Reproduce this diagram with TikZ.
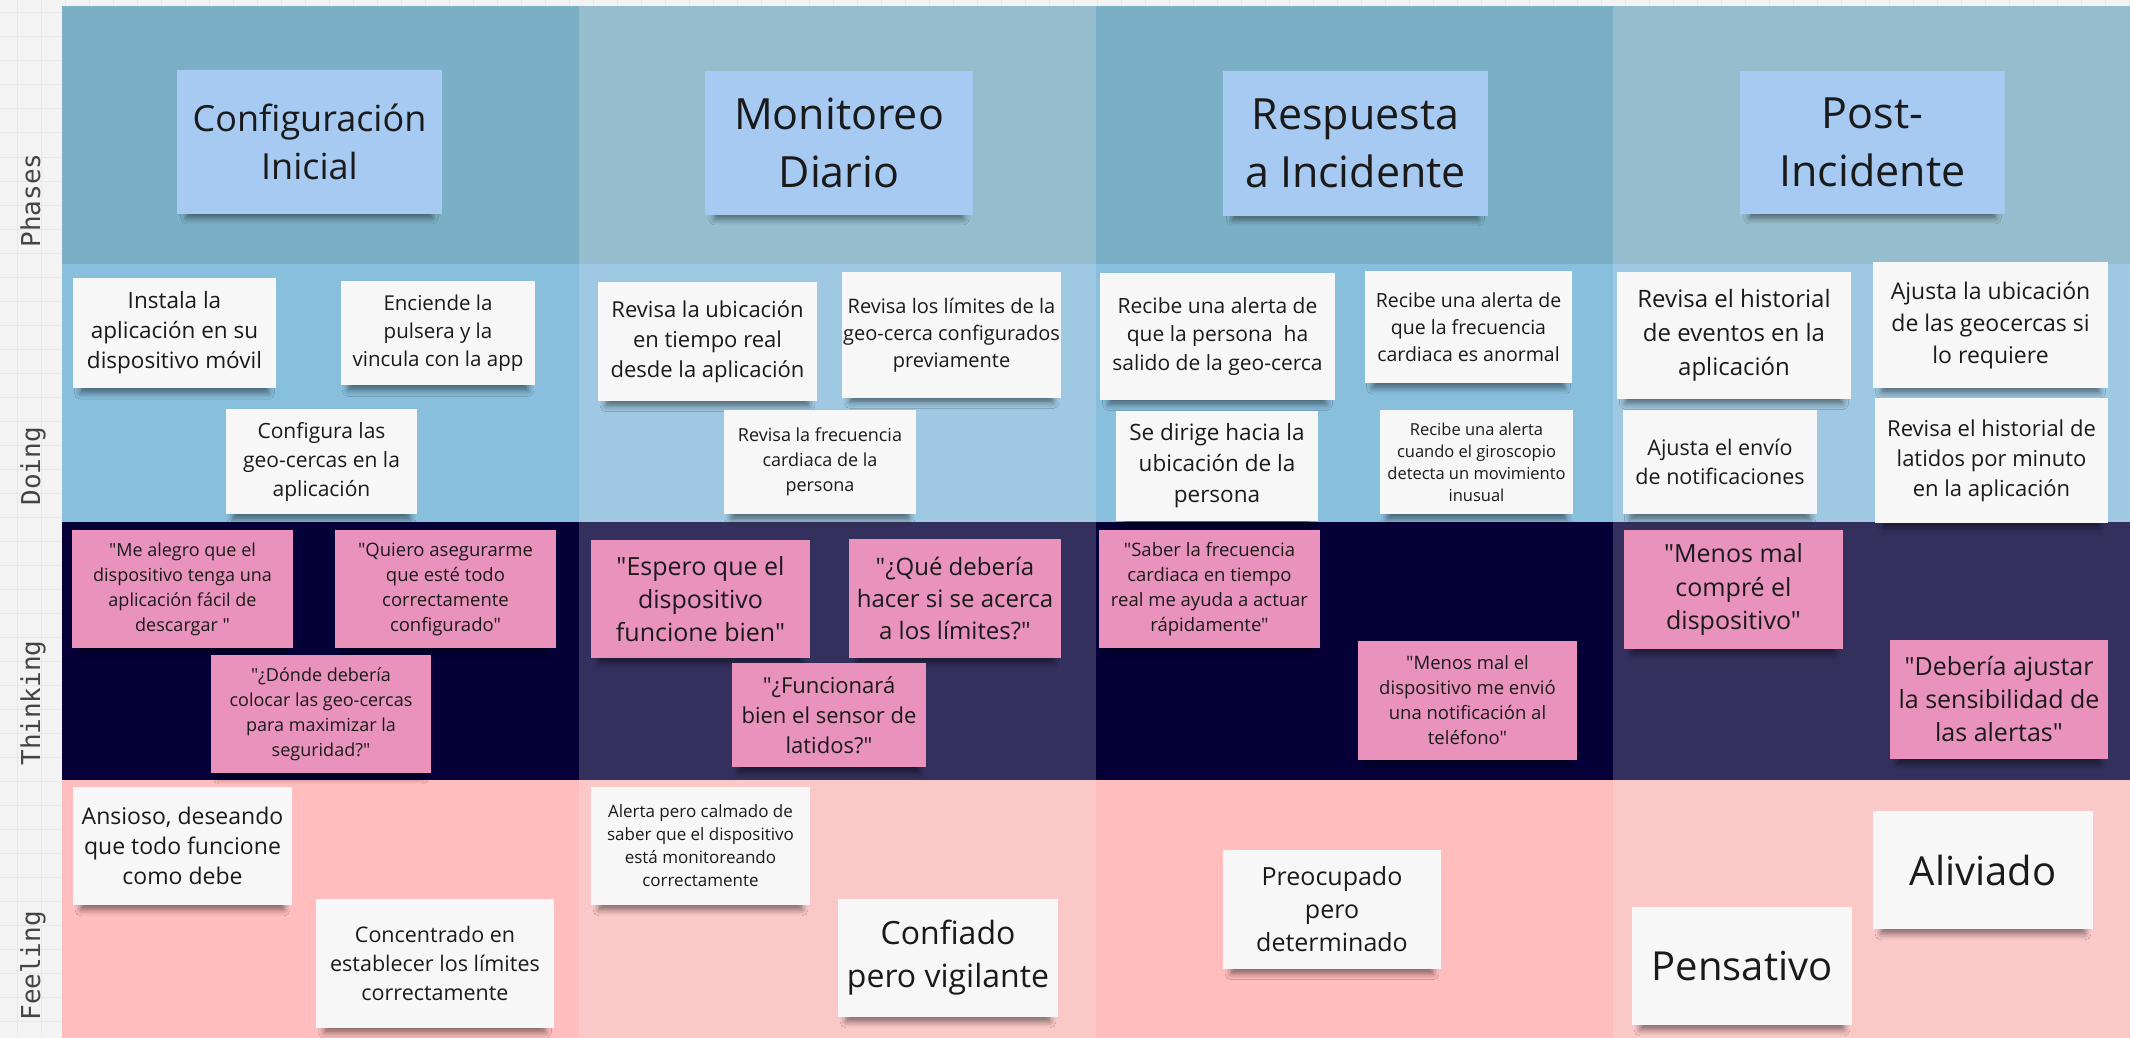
\documentclass[tikz,border=0pt]{standalone}
\usepackage{fontspec}
\setmainfont{Open Sans}
\newfontfamily\osans{Open Sans}
\newfontfamily\monof{DejaVu Sans Mono}
\usetikzlibrary{shadows.blur}
\definecolor{bggray}{HTML}{F3F3F3}
\definecolor{gridminor}{HTML}{E8E8E8}
\definecolor{phdark}{HTML}{7BAFC5}
\definecolor{phlight}{HTML}{96BDCE}
\definecolor{dodark}{HTML}{88BFDD}
\definecolor{dolight}{HTML}{9FC9E2}
\definecolor{thdark}{HTML}{050038}
\definecolor{thlight}{HTML}{34305E}
\definecolor{fedark}{HTML}{FFBDBD}
\definecolor{felight}{HTML}{FBC8C8}
\definecolor{stblue}{HTML}{A7CAF2}
\definecolor{stpink}{HTML}{E892BC}
\definecolor{stwhite}{HTML}{F7F7F7}
\definecolor{txt}{HTML}{1A1A1A}
\definecolor{lblgray}{HTML}{444444}
\tikzset{
  sticky/.style={draw=none, inner sep=0pt, align=center, text=txt,
    blur shadow={shadow xshift=0pt, shadow yshift=-5pt, shadow scale=0.93,
      shadow blur radius=3pt, shadow opacity=45}},
  ph/.style={sticky, fill=stblue},
  wh/.style={sticky, fill=stwhite},
  pk/.style={sticky, fill=stpink},
  lbl/.style={font=\monof\fontsize{13}{13}\selectfont, text=lblgray, inner sep=0pt, rotate=90, anchor=base west},
  gmin/.style={draw=gridminor, line width=0.5pt},
}
\newcommand\stk[9]{%
  \node[#2, minimum width={(#5-#3)*0.5pt}, minimum height={(#6-#4)*0.5pt},
    font=\osans\fontsize{#7}{#8}\selectfont] (#1) at ({(#3+#5)/2},{(#4+#6)/2}) {#9};}
\begin{document}
\begin{tikzpicture}[x=0.5pt,y=-0.5pt]
\useasboundingbox (0,0) rectangle (2130,1038);
% background with grid
\fill[bggray] (0,0) rectangle (2130,1038);
\foreach \i in {0,...,42} \draw[gmin] (0,13+24*\i) -- (62,13+24*\i);
\foreach \i in {17,41} \draw[gmin] (\i,0) -- (\i,1038);
\foreach \i in {0,...,86} \draw[gmin] (65+24*\i,0) -- (65+24*\i,6);
% board cells
\fill[phdark]  (62,6) rectangle (579,264);
\fill[phlight] (579,6) rectangle (1096,264);
\fill[phdark]  (1096,6) rectangle (1613,264);
\fill[phlight] (1613,6) rectangle (2130,264);
\fill[dodark]  (62,264) rectangle (579,522);
\fill[dolight] (579,264) rectangle (1096,522);
\fill[dodark]  (1096,264) rectangle (1613,522);
\fill[dolight] (1613,264) rectangle (2130,522);
\fill[thdark]  (62,522) rectangle (579,780);
\fill[thlight] (579,522) rectangle (1096,780);
\fill[thdark]  (1096,522) rectangle (1613,780);
\fill[thlight] (1613,522) rectangle (2130,780);
\fill[fedark]  (62,780) rectangle (579,1038);
\fill[felight] (579,780) rectangle (1096,1038);
\fill[fedark]  (1096,780) rectangle (1613,1038);
\fill[felight] (1613,780) rectangle (2130,1038);
% row labels
\node[lbl] (lphases) at (40,248) {Phases};
\node[lbl] (ldoing) at (40,506) {Doing};
\node[lbl] (lthinking) at (40,766) {Thinking};
\node[lbl] (lfeeling) at (40,1021) {Feeling};
% phases
\stk{p1}{ph}{177}{70}{442}{214}{18}{24}{Configuración\\Inicial}
\stk{p2}{ph}{705}{71}{973}{215}{21.5}{29}{Monitoreo\\Diario}
\stk{p3}{ph}{1223}{71}{1488}{216}{21.5}{29}{Respuesta\\a Incidente}
\stk{p4}{ph}{1740}{71}{2005}{214}{21.5}{29}{Post-\\Incidente}
% doing
\stk{d1}{wh}{73}{278}{276}{388}{11.25}{15}{Instala la\\aplicación en su\\dispositivo móvil}
\stk{d2}{wh}{341}{281}{535}{385}{10.25}{14}{Enciende la\\pulsera y la\\vincula con la app}
\stk{d3}{wh}{226}{409}{417}{514}{10.5}{14.5}{Configura las\\geo-cercas en la\\aplicación}
\stk{d4}{wh}{598}{282}{817}{401}{11}{15}{Revisa la ubicación\\en tiempo real\\desde la aplicación}
\stk{d5}{wh}{842}{272}{1061}{398}{10}{13.5}{Revisa los límites de la\\geo-cerca configurados\\previamente}
\stk{d6}{wh}{724}{410}{916}{514}{9}{12.5}{Revisa la frecuencia\\cardiaca de la\\persona}
\stk{d7}{wh}{1100}{273}{1335}{400}{10.5}{14.25}{Recibe una alerta de\\que la persona~ ha\\salido de la geo-cerca}
\stk{d8}{wh}{1365}{271}{1572}{383}{9.75}{13.5}{Recibe una alerta de\\que la frecuencia\\cardiaca es anormal}
\stk{d9}{wh}{1116}{411}{1318}{521}{11.25}{15.5}{Se dirige hacia la\\ubicación de la\\persona}
\stk{d10}{wh}{1380}{410}{1573}{514}{8.25}{11}{Recibe una alerta\\cuando el giroscopio\\detecta un movimiento\\inusual}
\stk{d11}{wh}{1617}{272}{1851}{399}{12}{17}{Revisa el historial\\de eventos en la\\aplicación}
\stk{d12}{wh}{1873}{262}{2108}{388}{11.5}{16}{Ajusta la ubicación\\de las geocercas si\\lo requiere}
\stk{d13}{wh}{1623}{410}{1817}{514}{10.75}{14.5}{Ajusta el envío\\de notificaciones}
\stk{d14}{wh}{1875}{398}{2108}{523}{11}{15}{Revisa el historial de\\latidos por minuto\\en la aplicación}
% thinking
\stk{t1}{pk}{72}{530}{293}{648}{9}{12.5}{"Me alegro que el\\dispositivo tenga una\\aplicación fácil de\\descargar "}
\stk{t2}{pk}{335}{530}{556}{648}{9.25}{12.5}{"Quiero asegurarme\\que esté todo\\correctamente\\configurado"}
\stk{t3}{pk}{211}{655}{431}{773}{9}{12.5}{"¿Dónde debería\\colocar las geo-cercas\\para maximizar la\\seguridad?"}
\stk{t4}{pk}{591}{540}{810}{658}{12.5}{16.5}{"Espero que el\\dispositivo\\funcione bien"}
\stk{t5}{pk}{849}{539}{1061}{658}{12}{16}{"¿Qué debería\\hacer si se acerca\\a los límites?"}
\stk{t6}{pk}{732}{663}{926}{767}{11}{15}{"¿Funcionará\\bien el sensor de\\latidos?"}
\stk{t7}{pk}{1099}{530}{1320}{648}{9.25}{12.5}{"Saber la frecuencia\\cardiaca en tiempo\\real me ayuda a actuar\\rápidamente"}
\stk{t8}{pk}{1358}{641}{1577}{760}{9.25}{12.5}{"Menos mal el\\dispositivo me envió\\una notificación al\\teléfono"}
\stk{t9}{pk}{1624}{530}{1843}{649}{12.5}{16.5}{"Menos mal\\compré el\\dispositivo"}
\stk{t10}{pk}{1890}{640}{2108}{759}{12.5}{16.5}{"Debería ajustar\\la sensibilidad de\\las alertas"}
% feeling
\stk{f1}{wh}{73}{787}{292}{905}{11.5}{15}{Ansioso, deseando\\que todo funcione\\como debe}
\stk{f2}{wh}{316}{899}{554}{1028}{10.75}{14.5}{Concentrado en\\establecer los límites\\correctamente}
\stk{f3}{wh}{591}{787}{810}{905}{8.5}{11.5}{Alerta pero calmado de\\saber que el dispositivo\\está monitoreando\\correctamente}
\stk{f4}{wh}{838}{899}{1058}{1017}{16}{21.5}{Confiado\\pero vigilante}
\stk{f5}{wh}{1223}{850}{1441}{969}{12.5}{16.5}{Preocupado\\pero\\determinado}
\stk{f6}{wh}{1632}{907}{1852}{1025}{20}{24}{Pensativo}
\stk{f7}{wh}{1873}{811}{2093}{929}{20}{24}{Aliviado}
\end{tikzpicture}
\end{document}
